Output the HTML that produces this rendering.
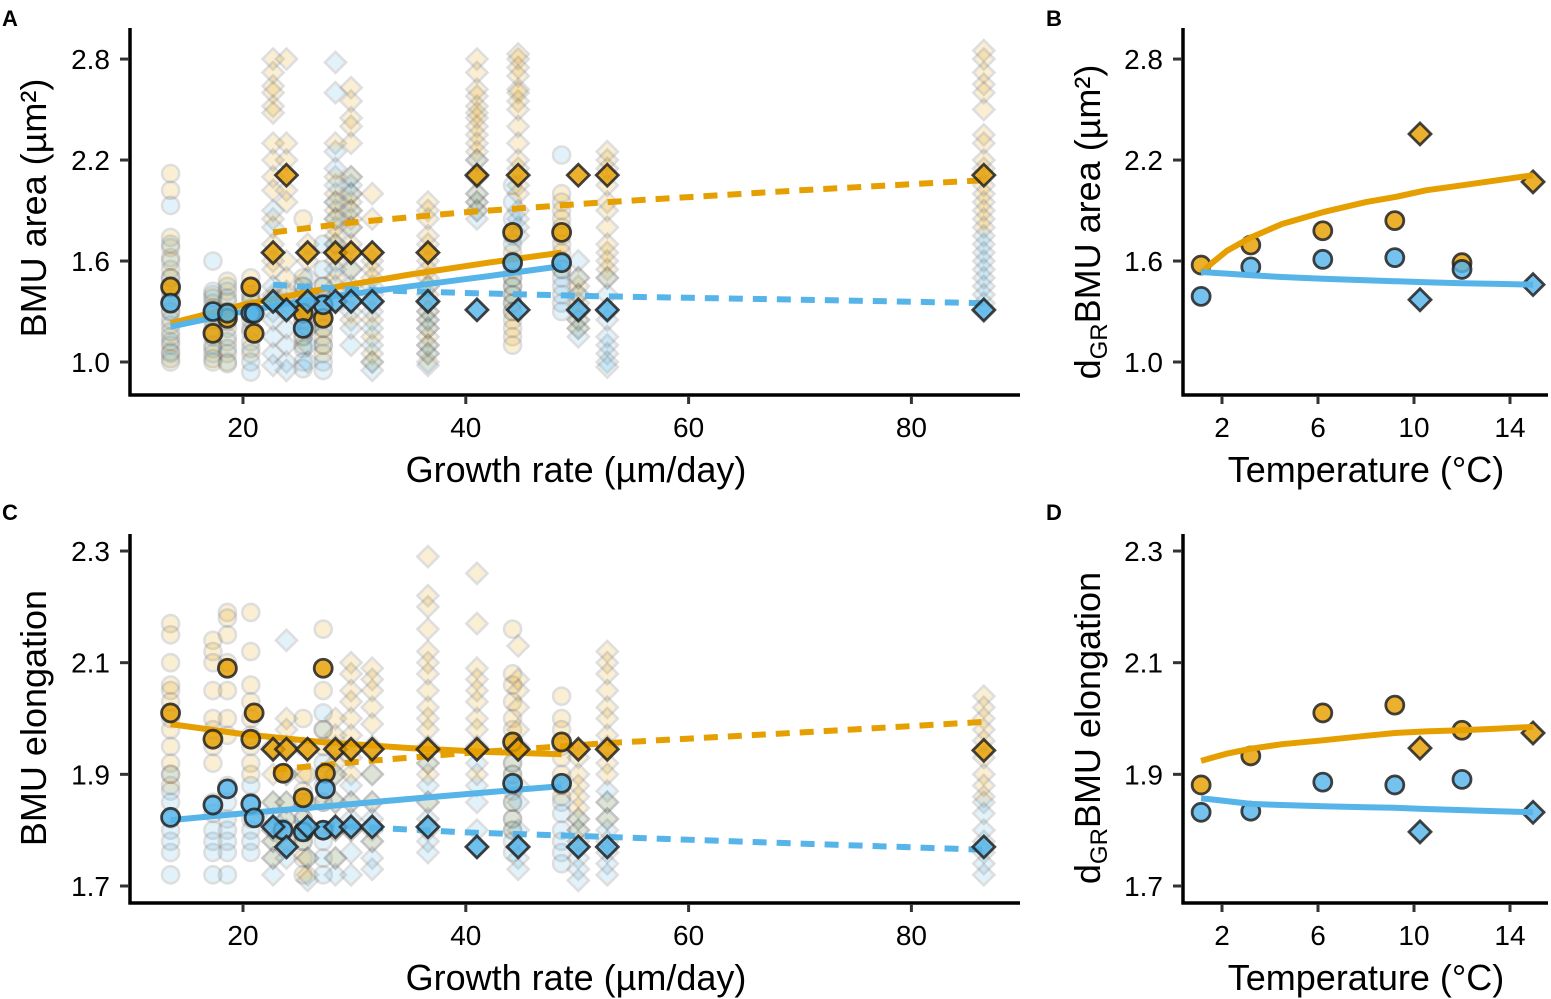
<!DOCTYPE html>
<html><head><meta charset="utf-8"><style>
html,body{margin:0;padding:0;background:#fff;}
svg{display:block;font-family:"Liberation Sans",Arial,sans-serif;}
</style></head><body>
<svg id="chart" width="1551" height="999" viewBox="0 0 1551 999" xmlns="http://www.w3.org/2000/svg">
<g id="layer"></g>
</svg>
<script>
// ---- data ----
const ORANGE = "#E69F00", BLUE = "#56B4E9";
const colX = [13.5,17.3,18.6,20.7,22.7,23.9,25.4,25.8,27.2,28.3,29.7,31.6,36.6,41.0,44.2,44.7,48.6,50.1,52.7,86.5];
const colShape = ["c","c","c","c","d","d","c","d","c","d","d","d","d","d","c","d","c","d","d","d"];
const faintA_o = [
 [2.12,2.02,1.74,1.68,1.62,1.55,1.5,1.42,1.38,1.3,1.22,1.15,1.1,1.05,1.0],
 [1.4,1.35,1.25,1.18,1.1,1.05,1.0],
 [1.48,1.42,1.36,1.3,1.2,1.12,1.05,0.99],
 [1.5,1.45,1.4,1.36,1.3,1.2,1.12,1.05],
 [2.8,2.72,2.64,2.6,2.52,2.48,2.3,2.2,2.1,2.02,1.85,1.7,1.6,1.55,1.4],
 [2.8,2.3,2.2,2.02,1.95,1.6,1.5,1.42,1.35],
 [1.85,1.5,1.45,1.38,1.32,1.25,1.15,1.1],
 [1.7,1.6,1.4,1.3,1.2],
 [1.45,1.38,1.32,1.2,1.15,1.1,1.05],
 [2.3,2.1,2.0,1.95,1.9,1.85,1.8,1.75,1.7,1.6,1.5],
 [2.63,2.55,2.45,2.4,2.3,2.1,2.0,1.95,1.9,1.85,1.8,1.7,1.55,1.4,1.25],
 [2.0,1.85,1.6,1.55,1.5,1.4,1.25,1.15,1.05,1.0],
 [1.95,1.9,1.85,1.75,1.7,1.6,1.55,1.5,1.45,1.4,1.35,1.3,1.25,1.2,1.15,1.1,1.05,1.0],
 [2.8,2.72,2.62,2.58,2.52,2.48,2.45,2.4,2.35,2.3,2.25,2.2,2.1,2.0,1.95,1.9],
 [1.75,1.65,1.55,1.5,1.45,1.4,1.35,1.3,1.25,1.2,1.15,1.1],
 [2.83,2.8,2.75,2.7,2.62,2.6,2.55,2.5,2.4,2.3,2.2,2.15,2.05,2.0],
 [2.0,1.95,1.9,1.85,1.8,1.75,1.7,1.65,1.6,1.55],
 [1.5,1.45,1.4,1.35,1.3,1.25,1.2],
 [2.25,2.2,2.15,2.05,1.95,1.9,1.8,1.7,1.65,1.6,1.55,1.5],
 [2.85,2.8,2.72,2.65,2.6,2.5,2.35,2.3,2.2,2.15,2.05,2.0,1.95,1.9,1.85,1.8]
];
const faintA_b = [
 [1.93,1.7,1.6,1.5,1.44,1.36,1.3,1.25,1.18,1.12,1.06,1.02],
 [1.6,1.42,1.38,1.32,1.28,1.2,1.15,1.08,1.02],
 [1.45,1.38,1.3,1.24,1.15,1.08,1.0],
 [1.38,1.32,1.25,1.18,1.08,1.0,0.94],
 [1.9,1.8,1.45,1.38,1.3,1.25,1.15,1.05,0.98],
 [1.4,1.3,1.2,1.1,1.0,0.95],
 [1.45,1.4,1.33,1.25,1.15,1.08,1.0,0.96],
 [1.5,1.4,1.3,1.2,1.1,1.0],
 [1.7,1.55,1.45,1.38,1.3,1.2,1.1,1.0,0.95],
 [2.78,2.6,2.25,2.15,2.05,1.95,1.85,1.7,1.55,1.45,1.35],
 [2.1,2.05,2.0,1.9,1.8,1.55,1.45,1.3,1.2,1.1],
 [1.45,1.35,1.3,1.2,1.1,1.0,0.95],
 [1.45,1.3,1.25,1.2,1.1,1.05,0.98],
 [2.2,2.1,2.0,1.95,1.9,1.85],
 [2.05,1.95,1.85,1.7,1.6,1.5,1.45,1.4,1.35,1.3],
 [1.9,1.85,1.8,1.75],
 [2.23,1.6,1.55,1.5,1.45,1.4,1.35,1.3],
 [1.6,1.5,1.4,1.3,1.25,1.2,1.15],
 [1.5,1.4,1.3,1.25,1.15,1.1,1.05,1.0,0.97],
 [1.75,1.7,1.65,1.6,1.55,1.5,1.45,1.4,1.35,1.3]
];
const faintC_o = [
 [2.17,2.15,2.1,2.06,2.05,2.03,2.0,1.98,1.95,1.92,1.9,1.88],
 [2.14,2.12,2.1,2.05,2.0,1.98,1.95,1.92],
 [2.19,2.18,2.15,2.1,2.05,2.0,1.97],
 [2.19,2.12,2.06,2.03,2.0,1.97,1.95,1.92,1.9],
 [1.95,1.9,1.85,1.8,1.78,1.75],
 [2.0,1.98,1.95,1.9,1.85,1.82,1.78],
 [2.0,1.95,1.9,1.87,1.85,1.82,1.8,1.78,1.75,1.72],
 [1.9,1.85,1.8,1.75,1.72],
 [2.16,2.05,1.98,1.95,1.9,1.85,1.8],
 [2.0,1.97,1.95,1.92,1.9,1.85,1.8,1.75],
 [2.1,2.08,2.05,2.03,2.0,1.97,1.93,1.9,1.85,1.8],
 [2.09,2.07,2.05,2.02,1.99,1.95,1.9,1.85,1.8,1.78],
 [2.29,2.22,2.2,2.16,2.12,2.1,2.08,2.05,2.02,2.0,1.98,1.95,1.92,1.9,1.85,1.8],
 [2.26,2.17,2.09,2.07,2.05,2.03,2.0,1.98,1.95,1.9],
 [2.16,2.08,2.06,2.03,2.0,1.98,1.95,1.92,1.9,1.88,1.85,1.82,1.8],
 [2.13,2.07,2.05,2.02,1.98,1.95],
 [2.04,2.0,1.98,1.95,1.93,1.9,1.88,1.86],
 [1.93,1.9,1.88,1.86,1.84,1.82,1.8,1.78],
 [2.12,2.1,2.08,2.05,2.02,2.0,1.97,1.95,1.92,1.9,1.85,1.82],
 [2.04,2.02,2.0,1.98,1.96,1.93,1.9,1.88,1.86]
];
const faintC_b = [
 [1.9,1.87,1.85,1.82,1.8,1.78,1.76,1.72],
 [1.85,1.83,1.8,1.78,1.76,1.72],
 [1.88,1.85,1.82,1.8,1.78,1.76,1.72],
 [1.88,1.85,1.82,1.8,1.78,1.76],
 [1.85,1.82,1.8,1.78,1.75,1.72],
 [2.14,1.9,1.85,1.82,1.8,1.75],
 [1.85,1.82,1.8,1.78],
 [1.8,1.75,1.71],
 [2.01,1.98,1.92,1.88,1.85,1.8,1.78,1.75,1.72],
 [1.9,1.85,1.8,1.75,1.72],
 [1.88,1.85,1.82,1.8,1.76,1.72],
 [1.9,1.85,1.82,1.78,1.75,1.73],
 [1.92,1.88,1.85,1.82,1.78,1.76],
 [1.92,1.88,1.85,1.8,1.77],
 [1.92,1.9,1.87,1.85,1.82,1.8,1.78,1.76],
 [1.88,1.85,1.8,1.77,1.75,1.73],
 [1.88,1.85,1.83,1.8,1.78,1.76,1.74],
 [1.82,1.8,1.77,1.75,1.73,1.71],
 [1.87,1.85,1.82,1.8,1.78,1.76,1.74,1.72],
 [1.85,1.83,1.8,1.78,1.76,1.74,1.72]
];
const boldCircX = [13.5,17.3,18.6,20.7,21.0,25.4,27.2,44.2,48.6];
const boldA_circ_o = [1.446,1.17,1.26,1.446,1.17,1.29,1.26,1.77,1.77];
const boldA_circ_b = [1.35,1.30,1.29,1.29,1.29,1.20,1.34,1.59,1.59];
const boldDiaX = [22.7,23.9,25.8,28.3,29.7,31.6,36.6,41.0,44.7,50.1,52.7,86.5];
const boldA_dia_o = [1.65,2.11,1.65,1.65,1.65,1.65,1.65,2.11,2.11,2.11,2.11,2.11];
const boldA_dia_b = [1.36,1.31,1.36,1.36,1.36,1.36,1.36,1.31,1.31,1.31,1.31,1.31];
const boldCircXC = [13.5,17.3,18.6,20.7,21.0,23.6,25.4,27.2,27.4,44.2,48.6];
const boldC_circ_o = [2.01,1.963,2.09,1.963,2.01,1.902,1.858,2.09,1.902,1.958,1.958];
const boldC_circ_b = [1.823,1.845,1.874,1.847,1.822,1.80,1.797,1.80,1.874,1.884,1.884];
const boldC_dia_o = [1.945,1.945,1.945,1.945,1.945,1.945,1.945,1.945,1.945,1.945,1.945,1.943];
const boldC_dia_b = [1.806,1.77,1.806,1.806,1.806,1.806,1.806,1.77,1.77,1.77,1.77,1.77];
const lineSolidX = [13.5,20,27,35,42,48.6];
const lineA_solid_o = [1.23,1.34,1.43,1.52,1.59,1.65];
const lineA_solid_b = [1.21,1.30,1.38,1.45,1.51,1.57];
const lineDashX = [22.7,30,40,52.7,70,86.5];
const lineA_dash_o = [1.77,1.83,1.89,1.95,2.02,2.08];
const lineA_dash_b = [1.46,1.43,1.41,1.39,1.37,1.35];
const lineC_solid_o = [1.99,1.972,1.958,1.947,1.94,1.936];
const lineC_solid_b = [1.818,1.83,1.842,1.856,1.868,1.879];
const lineC_dash_o = [1.908,1.922,1.938,1.956,1.975,1.994];
const lineC_dash_b = [1.815,1.806,1.796,1.788,1.776,1.765];
const tempCircX = [1.13,3.2,6.2,9.2,12.0];
const tempDiaX = [10.25,14.96];
const B_circ_o = [1.576,1.695,1.78,1.84,1.59];
const B_circ_b = [1.39,1.565,1.61,1.62,1.55];
const B_dia_o = [2.355,2.07];
const B_dia_b = [1.37,1.46];
const D_circ_o = [1.881,1.933,2.01,2.024,1.979];
const D_circ_b = [1.832,1.834,1.886,1.881,1.891];
const D_dia_o = [1.947,1.974];
const D_dia_b = [1.797,1.832];
const tempLineX = [1.13,1.6,2.2,3.2,4.5,6.2,8,9.2,10.5,12,13.5,14.96];
const B_line_o = [1.53,1.59,1.66,1.74,1.82,1.89,1.95,1.98,2.02,2.05,2.08,2.11];
const B_line_b = [1.535,1.53,1.525,1.515,1.505,1.495,1.486,1.48,1.474,1.468,1.464,1.46];
const D_line_o = [1.924,1.93,1.937,1.946,1.954,1.961,1.969,1.974,1.977,1.979,1.982,1.985];
const D_line_b = [1.857,1.855,1.852,1.847,1.845,1.843,1.841,1.84,1.838,1.836,1.834,1.832];
const xTicksGR = [20,40,60,80];
const xTicksT = [2,6,10,14];
const yTicksArea = [1.0,1.6,2.2,2.8];
const yTicksElong = [1.7,1.9,2.1,2.3];

// ---- scales ----
const xGR = v => 243 + (v - 20) * 11.14;
const xT = v => 1222 + (v - 2) * 24;
const yArea = v => 362 - (v - 1.0) * 168.3;
const yEl = v => 886 - (v - 1.7) * 558.3;

const NS = "http://www.w3.org/2000/svg";
const layer = document.getElementById("layer");
function mk(tag, attrs, parent) {
  const e = document.createElementNS(NS, tag);
  for (const k in attrs) e.setAttribute(k, attrs[k]);
  (parent || layer).appendChild(e);
  return e;
}
function marker(g, shape, cx, cy, color, bold) {
  let e;
  if (shape === "c") {
    e = mk("circle", {cx: cx, cy: cy, r: bold ? 9 : 8.5}, g);
  } else {
    const s = bold ? 11 : 10.5;
    e = mk("polygon", {points: `${cx},${cy-s} ${cx+s},${cy} ${cx},${cy+s} ${cx-s},${cy}`}, g);
  }
  e.setAttribute("fill", color);
  e.setAttribute("stroke", bold ? "#222" : "#444");
  e.setAttribute("stroke-width", bold ? 2.8 : 2.6);
  if (bold) { e.setAttribute("fill-opacity", "0.82"); e.setAttribute("stroke-opacity", "0.85"); }
  else { e.setAttribute("opacity", "0.17"); }
  return e;
}
function line(g, xs, ys, sx, sy, color, dashed) {
  const d = xs.map((x, i) => (i ? "L" : "M") + sx(x).toFixed(1) + "," + sy(ys[i]).toFixed(1)).join(" ");
  const p = mk("path", {d: d, fill: "none", stroke: color, "stroke-width": 6, "stroke-linejoin": "round"}, g);
  if (dashed) p.setAttribute("stroke-dasharray", "14 10");
  return p;
}
function axes(g, x0, x1, y0, y1, xt, yt, sx, sy) {
  mk("line", {x1: x0, y1: y0, x2: x0, y2: y1 + 1.5, stroke: "#000", "stroke-width": 3.5}, g);
  mk("line", {x1: x0 - 1.5, y1: y1, x2: x1, y2: y1, stroke: "#000", "stroke-width": 3.5}, g);
  xt.forEach(v => {
    mk("line", {x1: sx(v), y1: y1 + 1, x2: sx(v), y2: y1 + 9, stroke: "#333", "stroke-width": 3}, g);
    const t = mk("text", {x: sx(v), y: y1 + 42, "text-anchor": "middle", "font-size": 28, fill: "#000"}, g);
    t.textContent = v;
  });
  yt.forEach(v => {
    mk("line", {x1: x0 - 10, y1: sy(v), x2: x0 - 1, y2: sy(v), stroke: "#333", "stroke-width": 3}, g);
    const t = mk("text", {x: x0 - 20, y: sy(v) + 10, "text-anchor": "end", "font-size": 28, fill: "#000"}, g);
    t.textContent = v.toFixed(1);
  });
}

// ---- Panel A ----
const gA = mk("g", {});


axes(gA, 130, 1020, 28, 395, xTicksGR, yTicksArea, xGR, yArea);
colX.forEach((x, i) => {
  faintA_o[i].forEach(v => marker(gA, colShape[i], xGR(x), yArea(v), ORANGE, false));
  faintA_b[i].forEach(v => marker(gA, colShape[i], xGR(x), yArea(v), BLUE, false));
});
line(gA, lineSolidX, lineA_solid_o, xGR, yArea, ORANGE, false);
line(gA, lineSolidX, lineA_solid_b, xGR, yArea, BLUE, false);
line(gA, lineDashX, lineA_dash_o, xGR, yArea, ORANGE, true);
line(gA, lineDashX, lineA_dash_b, xGR, yArea, BLUE, true);
boldCircX.forEach((x, i) => { marker(gA, "c", xGR(x), yArea(boldA_circ_o[i]), ORANGE, true); });
boldCircX.forEach((x, i) => { marker(gA, "c", xGR(x), yArea(boldA_circ_b[i]), BLUE, true); });
boldDiaX.forEach((x, i) => { marker(gA, "d", xGR(x), yArea(boldA_dia_o[i]), ORANGE, true); marker(gA, "d", xGR(x), yArea(boldA_dia_b[i]), BLUE, true); });

// ---- Panel C ----
const gC = mk("g", {});


axes(gC, 130, 1020, 534, 903, xTicksGR, yTicksElong, xGR, yEl);
colX.forEach((x, i) => {
  faintC_o[i].forEach(v => marker(gC, colShape[i], xGR(x), yEl(v), ORANGE, false));
  faintC_b[i].forEach(v => marker(gC, colShape[i], xGR(x), yEl(v), BLUE, false));
});
line(gC, lineSolidX, lineC_solid_o, xGR, yEl, ORANGE, false);
line(gC, lineSolidX, lineC_solid_b, xGR, yEl, BLUE, false);
line(gC, lineDashX, lineC_dash_o, xGR, yEl, ORANGE, true);
line(gC, lineDashX, lineC_dash_b, xGR, yEl, BLUE, true);
boldCircXC.forEach((x, i) => { marker(gC, "c", xGR(x), yEl(boldC_circ_o[i]), ORANGE, true); marker(gC, "c", xGR(x), yEl(boldC_circ_b[i]), BLUE, true); });
boldDiaX.forEach((x, i) => { marker(gC, "d", xGR(x), yEl(boldC_dia_o[i]), ORANGE, true); marker(gC, "d", xGR(x), yEl(boldC_dia_b[i]), BLUE, true); });

// ---- Panel B ----
const gB = mk("g", {});


axes(gB, 1183, 1548, 28, 395, xTicksT, yTicksArea, xT, yArea);
tempCircX.forEach((x, i) => { marker(gB, "c", xT(x), yArea(B_circ_o[i]), ORANGE, true); marker(gB, "c", xT(x), yArea(B_circ_b[i]), BLUE, true); });
tempDiaX.forEach((x, i) => { marker(gB, "d", xT(x), yArea(B_dia_o[i]), ORANGE, true); marker(gB, "d", xT(x), yArea(B_dia_b[i]), BLUE, true); });
line(gB, tempLineX, B_line_o, xT, yArea, ORANGE, false);
line(gB, tempLineX, B_line_b, xT, yArea, BLUE, false);

// ---- Panel D ----
const gD = mk("g", {});


axes(gD, 1183, 1548, 534, 903, xTicksT, yTicksElong, xT, yEl);
tempCircX.forEach((x, i) => { marker(gD, "c", xT(x), yEl(D_circ_o[i]), ORANGE, true); marker(gD, "c", xT(x), yEl(D_circ_b[i]), BLUE, true); });
tempDiaX.forEach((x, i) => { marker(gD, "d", xT(x), yEl(D_dia_o[i]), ORANGE, true); marker(gD, "d", xT(x), yEl(D_dia_b[i]), BLUE, true); });
line(gD, tempLineX, D_line_o, xT, yEl, ORANGE, false);
line(gD, tempLineX, D_line_b, xT, yEl, BLUE, false);
</script>
<svg style="position:absolute;left:0;top:0" width="1551" height="999" xmlns="http://www.w3.org/2000/svg" font-family="Liberation Sans, Arial, sans-serif">
  <text x="2" y="26" font-size="22" font-weight="bold">A</text>
  <text x="1046" y="26" font-size="22" font-weight="bold">B</text>
  <text x="2" y="520" font-size="22" font-weight="bold">C</text>
  <text x="1046" y="520" font-size="22" font-weight="bold">D</text>
  <text transform="translate(46,208) rotate(-90)" text-anchor="middle" font-size="36">BMU area (µm²)</text>
  <text transform="translate(46,718) rotate(-90)" text-anchor="middle" font-size="36">BMU elongation</text>
  <text x="576" y="482" text-anchor="middle" font-size="36">Growth rate (µm/day)</text>
  <text x="576" y="990" text-anchor="middle" font-size="36">Growth rate (µm/day)</text>
  <text x="1366" y="482" text-anchor="middle" font-size="36">Temperature (°C)</text>
  <text x="1366" y="990" text-anchor="middle" font-size="36">Temperature (°C)</text>
  <text transform="translate(1100,222) rotate(-90)" text-anchor="middle" font-size="36">d<tspan font-size="24" dy="7">GR</tspan><tspan dy="-7">BMU area (µm²)</tspan></text>
  <text transform="translate(1100,728) rotate(-90)" text-anchor="middle" font-size="36">d<tspan font-size="24" dy="7">GR</tspan><tspan dy="-7">BMU elongation</tspan></text>
</svg>
</body></html>
